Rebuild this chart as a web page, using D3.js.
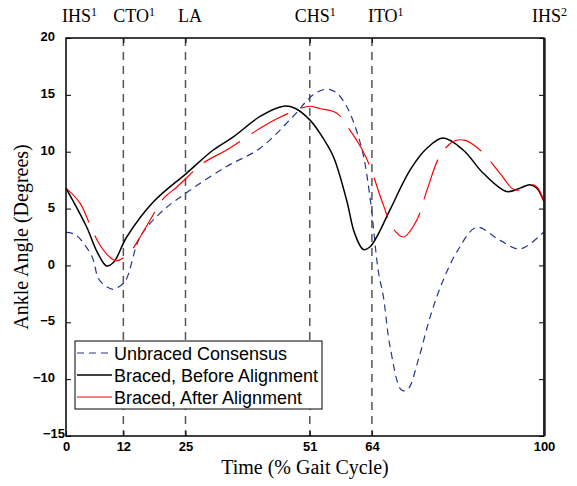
<!DOCTYPE html>
<html>
  <head>
    <meta charset="utf-8">
    <title></title>
    <script src="https://d3js.org/d3.v7.min.js"></script>
  </head>
  <style>
    body { margin: 0; background: #fff; }
    svg { display: block; }
  </style>
  <body>
  <svg width="577" height="486"></svg>
  <script>

  // gait cycle % / ankle angle
  var unbracedPct = [0,2,5.4,7,9.8,11,12.5,15.5,19.7,25.2,33.6,40.6,47.5,51.7,54.5,56.5,58.7,61.8,63.6,65.3,66.4,67.8,70.2,71.5,73.7,76.2,78.9,82,85.9,90.8,95,100];
  var unbracedDeg = [2.9,2.7,0.8,-1.3,-2.1,-1.9,-1.3,2.5,4.6,6.4,8.7,10.3,13.1,15.0,15.5,15.2,14.0,10.4,6.0,-0.4,-2.75,-7.15,-10.96,-10.9,-8.3,-4.5,-1.3,1.35,3.35,2.2,1.45,2.96];

  var beforePct = [0,4.3,6.5,8.5,10,12.7,18.3,25.2,30.8,35,40.6,45.5,48,51,53,55.9,58.7,60.4,62.2,63.5,65,67.8,72,75.5,78.9,83.1,87.3,92.2,95,97,98.5,100];
  var beforeDeg = [6.8,3.4,1.2,-0.05,0.3,2.5,5.6,8.1,10.15,11.3,13.1,14.0,13.8,12.8,11.7,9.6,5.75,2.8,1.4,1.6,2.5,4.9,8.4,10.3,11.2,10.15,8.1,6.5,6.8,7.1,6.8,5.6];

  var afterPct = [0,2.9,5.4,7.1,9,10.6,13.4,15.5,17.6,20.4,23.2,28.7,33.6,40.6,44.1,49,51,53.1,56.6,59.4,61.8,63.6,66.4,68.5,70.6,73.4,75.5,78.2,81,83.5,86.6,90.8,93.6,95.7,97,98.5,100];
  var afterDeg = [6.8,5.5,3.2,1.8,0.8,0.4,1.2,2.5,4.0,5.9,6.9,9.0,10.15,12.06,12.9,13.8,14.0,13.8,13.4,11.9,10.3,8.7,5.3,3.2,2.5,4.0,6.6,9.6,10.9,11.0,10.15,8.1,6.7,6.7,7.1,6.9,5.6];

  var eventPct = [0,12,25,51,64,100];
  var eventNames = ["IHS","CTO","LA","CHS","ITO","IHS"];
  var eventSup = ["1","1","","1","1","2"];
  var yTicks = [-15,-10,-5,0,5,10,15,20];

  var seriesNames = ["Unbraced Consensus","Braced, Before Alignment","Braced, After Alignment"];

  var svg = d3.select("svg"),
      margin = {top: 38, right: 33, bottom: 50, left: 66},
      width = +svg.attr("width") - margin.left - margin.right,
      height = +svg.attr("height") - margin.top - margin.bottom,
      g = svg.append("g").attr("transform", "translate(" + margin.left + "," + margin.top + ")");

  var x = d3.scaleLinear().domain([0, 100]).range([0, width]);
  var y = d3.scaleLinear().domain([-15, 20]).range([height, 0]);

  // event lines
  g.selectAll(".event")
    .data(eventPct.slice(1, 5))
    .enter().append("line")
    .attr("x1", function(d) { return x(d); })
    .attr("x2", function(d) { return x(d); })
    .attr("y1", 0)
    .attr("y2", height)
    .attr("stroke", "#555")
    .attr("stroke-width", 1.5)
    .attr("stroke-dasharray", "8,6");

  function zip(a, b) {
    return a.map(function(d, i) { return [d, b[i]]; });
  }

  var line = d3.line()
    .x(function(d) { return x(d[0]); })
    .y(function(d) { return y(d[1]); })
    .curve(d3.curveCatmullRom.alpha(0.5));

  var series = [
    {pts: zip(unbracedPct, unbracedDeg), color: "#24388a", dash: "7,5", w: 1.2},
    {pts: zip(beforePct, beforeDeg), color: "#000", dash: null, w: 1.5},
    {pts: zip(afterPct, afterDeg), color: "#ff0000", dash: "42,14", w: 1.2}
  ];

  g.selectAll(".series")
    .data(series)
    .enter().append("path")
    .attr("d", function(d) { return line(d.pts); })
    .attr("fill", "none")
    .attr("stroke", function(d) { return d.color; })
    .attr("stroke-width", function(d) { return d.w; })
    .attr("stroke-dasharray", function(d) { return d.dash; });

  // axes, ticks pointing inwards
  var axisStyle = function(sel) {
    sel.select(".domain").remove();
    sel.selectAll("line").attr("stroke", "#000");
    sel.selectAll("text")
      .style("font-family", "'Liberation Sans', Arial, sans-serif")
      .style("font-size", "13px")
      .style("font-weight", "bold")
      .attr("fill", "#000");
  };

  g.append("g")
    .attr("transform", "translate(0," + height + ")")
    .call(d3.axisBottom(x).tickValues(eventPct).tickSizeInner(-5).tickSizeOuter(0).tickPadding(6))
    .call(axisStyle);

  g.append("g")
    .call(d3.axisTop(x).tickValues(eventPct.slice(1, 5)).tickSizeInner(-5).tickSizeOuter(0).tickFormat(""))
    .call(axisStyle);

  var yAx = g.append("g")
    .call(d3.axisLeft(y).tickValues(yTicks).tickSizeInner(-5).tickSizeOuter(0).tickPadding(11))
    .call(axisStyle);
  yAx.selectAll("text").attr("dy", "0.2em");
  // matlab pushes the bottom label into the corner
  yAx.selectAll(".tick").filter(function(d) { return d == -15; })
    .select("text").attr("x", -1).attr("dy", "0.1em");

  g.append("g")
    .attr("transform", "translate(" + width + ",0)")
    .call(d3.axisRight(y).tickValues(yTicks).tickSizeInner(-5).tickSizeOuter(0).tickFormat(""))
    .call(axisStyle);

  g.append("rect")
    .attr("width", width)
    .attr("height", height)
    .attr("fill", "none")
    .attr("stroke", "#000")
    .attr("stroke-width", 1.5);

  g.append("line")
    .attr("x1", width + 0.5).attr("x2", width + 0.5)
    .attr("y1", 0).attr("y2", height)
    .attr("stroke", "#222")
    .attr("stroke-width", 2.5);

  // event names on top
  var labelShift = [-4, -10, -7.5, -15, -4, -12];
  var ev = svg.selectAll(".evlabel")
    .data(eventNames)
    .enter().append("text")
    .attr("x", function(d, i) { return margin.left + x(eventPct[i]) + labelShift[i]; })
    .attr("y", 22)
    .style("font-family", "'Liberation Serif', 'Times New Roman', serif")
    .style("font-size", "18px");
  ev.append("tspan").text(function(d) { return d; });
  ev.append("tspan")
    .attr("dy", -6)
    .style("font-size", "12px")
    .text(function(d, i) { return eventSup[i]; });

  // axis titles
  svg.append("text")
    .attr("x", margin.left + width / 2)
    .attr("y", 474)
    .attr("text-anchor", "middle")
    .style("font-family", "'Liberation Serif', 'Times New Roman', serif")
    .style("font-size", "20px")
    .text("Time (% Gait Cycle)");

  svg.append("text")
    .attr("transform", "translate(28," + (margin.top + height / 2) + ") rotate(-90)")
    .attr("text-anchor", "middle")
    .style("font-family", "'Liberation Serif', 'Times New Roman', serif")
    .style("font-size", "20px")
    .text("Ankle Angle (Degrees)");

  // legend
  var legend = svg.append("g").attr("transform", "translate(75,341)");
  legend.append("rect")
    .attr("width", 247)
    .attr("height", 68)
    .attr("fill", "#fff")
    .attr("stroke", "#000")
    .attr("stroke-width", 1);

  var rows = legend.selectAll(".row")
    .data(series)
    .enter().append("g")
    .attr("transform", function(d, i) { return "translate(0," + (12 + i * 22) + ")"; });
  rows.append("line")
    .attr("x1", 2).attr("x2", 37)
    .attr("stroke", function(d) { return d.color; })
    .attr("stroke-width", function(d) { return d.w; })
    .attr("stroke-dasharray", function(d, i) { return i == 0 ? "7,5" : null; });
  rows.append("text")
    .attr("x", 39)
    .attr("y", 6.5)
    .style("font-family", "'Liberation Sans', Arial, sans-serif")
    .style("font-size", "18px")
    .text(function(d, i) { return seriesNames[i]; });

  </script>
  </body>
</html>
